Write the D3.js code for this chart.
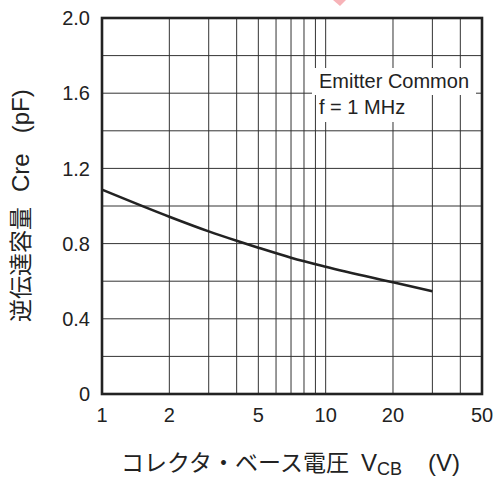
<!DOCTYPE html>
<html>
<head>
<meta charset="utf-8">
<script src="https://cdn.jsdelivr.net/npm/d3@7.9.0/dist/d3.min.js"></script>
<style>
  body { margin: 0; background: #fff; }
  svg { display: block; }
  .tick-label { font-family: "Liberation Sans", Arial, sans-serif; font-size: 20px; fill: #222; }
  .title { font-family: "Liberation Sans", Arial, sans-serif; font-size: 24px; fill: #222; }
  .jp { font-family: "Noto Sans CJK JP", sans-serif; font-size: 23px; }
</style>
</head>
<body>
<svg id="chart" width="497" height="478"></svg>
<script>
// Cre vs VCB (log x)
const vcb = [1, 2, 3, 4, 5, 7, 10, 20, 30];
const cre = [1.087, 0.943, 0.865, 0.815, 0.778, 0.725, 0.677, 0.594, 0.546];

const xGrid = [2, 3, 4, 5, 6, 7, 8, 9, 10, 20, 30, 40];
const xTicks = [1, 2, 5, 10, 20, 50];
const yGrid = [0.2, 0.4, 0.6, 0.8, 1.0, 1.2, 1.4, 1.6, 1.8];
const yTicks = [0, 0.4, 0.8, 1.2, 1.6, 2.0];

const svg = d3.select("#chart");
const margin = { left: 102, right: 15, top: 18, bottom: 84 };
const width = 497 - margin.left - margin.right;
const height = 478 - margin.top - margin.bottom;

const x = d3.scaleLog().domain([1, 50]).range([0, width]);
const y = d3.scaleLinear().domain([0, 2]).range([height, 0]);

// little pink mark at the top (from the source image)
svg.append("path")
  .attr("d", "M333,0 L346,0 L340,6 Z")
  .attr("fill", "#f7b3b8");

const g = svg.append("g").attr("transform", `translate(${margin.left},${margin.top})`);

// grid
g.selectAll(".vgrid")
  .data(xGrid)
  .join("line")
  .attr("x1", d => x(d)).attr("x2", d => x(d))
  .attr("y1", 0).attr("y2", height)
  .attr("stroke", "#333").attr("stroke-width", 1);

g.selectAll(".hgrid")
  .data(yGrid)
  .join("line")
  .attr("x1", 0).attr("x2", width)
  .attr("y1", d => y(d)).attr("y2", d => y(d))
  .attr("stroke", "#333").attr("stroke-width", 1);

// white boxes behind the note
g.append("rect")
  .attr("x", 312 - margin.left).attr("y", 68 - margin.top)
  .attr("width", 164).attr("height", 27).attr("fill", "#fff");
g.append("rect")
  .attr("x", 318 - margin.left).attr("y", 95 - margin.top)
  .attr("width", 92).attr("height", 27).attr("fill", "#fff");

g.append("text")
  .attr("class", "tick-label")
  .attr("x", 319 - margin.left).attr("y", 88 - margin.top)
  .text("Emitter Common");
g.append("text")
  .attr("class", "tick-label")
  .attr("x", 319 - margin.left).attr("y", 114 - margin.top)
  .text("f = 1 MHz");

// curve
const line = d3.line()
  .x((d, i) => x(vcb[i]))
  .y(d => y(d))
  .curve(d3.curveMonotoneX);

g.append("path")
  .datum(cre)
  .attr("d", line)
  .attr("fill", "none")
  .attr("stroke", "#222")
  .attr("stroke-width", 2.6);

// frame
g.append("rect")
  .attr("width", width).attr("height", height)
  .attr("fill", "none")
  .attr("stroke", "#222")
  .attr("stroke-width", 2.6);

// tick labels
g.selectAll(".xt")
  .data(xTicks)
  .join("text")
  .attr("class", "tick-label")
  .attr("x", d => x(d))
  .attr("y", height + 28)
  .attr("text-anchor", "middle")
  .text(d => d);

g.selectAll(".yt")
  .data(yTicks)
  .join("text")
  .attr("class", "tick-label")
  .attr("x", -12)
  .attr("y", d => y(d))
  .attr("dy", "0.36em")
  .attr("text-anchor", "end")
  .text(d => (d === 0 ? "0" : d.toFixed(1)));

// axis titles
const xt = svg.append("text")
  .attr("class", "title")
  .attr("x", 121).attr("y", 471);
xt.append("tspan").attr("class", "jp").text("コレクタ・ベース電圧");
xt.append("tspan").attr("dx", 12).text("V");
xt.append("tspan").attr("font-size", 18).attr("dy", 4).text("CB");
xt.append("tspan").attr("dy", -4).attr("dx", 26).text("(V)");

const yt = svg.append("text")
  .attr("class", "title")
  .attr("transform", "translate(29,322) rotate(-90)");
yt.append("tspan").attr("class", "jp").text("逆伝達容量");
yt.append("tspan").attr("dx", 15).text("Cre");
yt.append("tspan").attr("dx", 20).text("(pF)");
</script>
</body>
</html>
